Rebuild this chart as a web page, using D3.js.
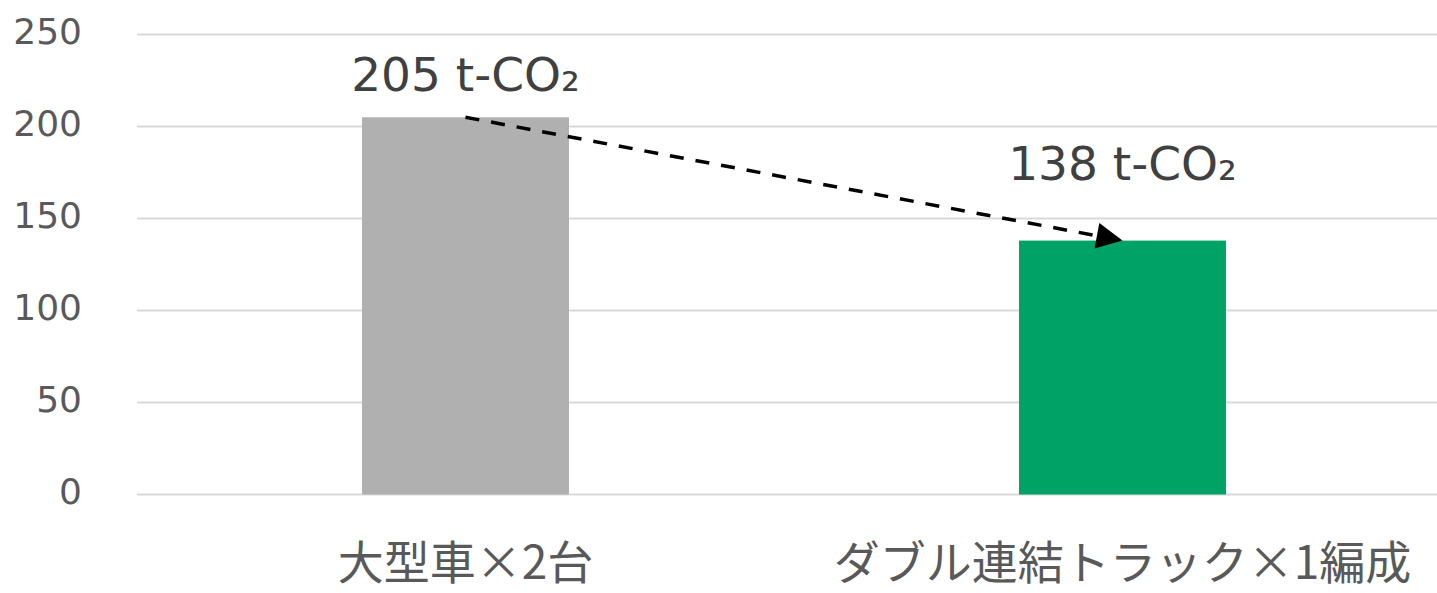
<!DOCTYPE html>
<html>
<head>
<meta charset="utf-8">
<script src="https://cdnjs.cloudflare.com/ajax/libs/d3/7.8.5/d3.min.js"></script>
<style>
  body { margin: 0; background: #fff; }
  svg { display: block; }
</style>
</head>
<body>
<script>
// data
var categories = ["大型車×2台", "ダブル連結トラック×1編成"];
var values = [205, 138];
var valueLabels = ["205 t-CO₂", "138 t-CO₂"];
var barColors = ["#b0b0b0", "#00a266"];
var yTicks = [0, 50, 100, 150, 200, 250];

var w = 1437, h = 593;
var margin = {top: 34.5, left: 137, bottom: 98.5},
    plotRight = 1451; // right edge of the plot sits just past the window

var svg = d3.select("body").append("svg")
    .attr("width", w)
    .attr("height", h);

var x = d3.scaleBand()
    .domain(categories)
    .range([margin.left, plotRight])
    .padding(0);

var y = d3.scaleLinear()
    .domain([0, 250])
    .range([h - margin.bottom, margin.top]);

var barW = x.bandwidth() * 0.315;

// gridlines
svg.append("g")
    .selectAll("line")
    .data(yTicks)
    .enter().append("line")
    .attr("x1", margin.left)
    .attr("x2", w)
    .attr("y1", function(d) { return y(d); })
    .attr("y2", function(d) { return y(d); })
    .attr("stroke", "#d9d9d9")
    .attr("stroke-width", 2);

// y tick labels
svg.append("g")
    .selectAll("text")
    .data(yTicks)
    .enter().append("text")
    .attr("x", margin.left - 55)
    .attr("y", function(d) { return y(d) + 9; })
    .attr("text-anchor", "end")
    .style("font-family", "'DejaVu Sans', sans-serif")
    .style("font-size", "36px")
    .attr("fill", "#595959")
    .text(function(d) { return d; });

// bars
svg.append("g")
    .selectAll("rect")
    .data(values)
    .enter().append("rect")
    .attr("x", function(d, i) { return x(categories[i]) + x.bandwidth() / 2 - barW / 2; })
    .attr("y", function(d) { return y(d); })
    .attr("width", barW)
    .attr("height", function(d) { return y(0) - y(d); })
    .attr("fill", function(d, i) { return barColors[i]; });

// category labels
svg.append("g")
    .selectAll("text")
    .data(categories)
    .enter().append("text")
    .attr("x", function(d) { return x(d) + x.bandwidth() / 2; })
    .attr("y", 579)
    .attr("text-anchor", "middle")
    .style("font-family", "'Noto Sans CJK JP', sans-serif")
    .style("font-size", "46px")
    .attr("fill", "#595959")
    .text(function(d) { return d; });

// value labels above the bars
var labelOffset = [26, 61];
svg.append("g")
    .selectAll("text")
    .data(valueLabels)
    .enter().append("text")
    .attr("x", function(d, i) { return x(categories[i]) + x.bandwidth() / 2; })
    .attr("y", function(d, i) { return y(values[i]) - labelOffset[i]; })
    .attr("text-anchor", "middle")
    .style("font-family", "'DejaVu Sans', sans-serif")
    .style("font-size", "47px")
    .attr("fill", "#404040")
    .text(function(d) { return d; });

// dashed arrow from first bar top to second bar top
svg.append("defs").append("marker")
    .attr("id", "arrow")
    .attr("viewBox", "0 0 10 10")
    .attr("refX", 10)
    .attr("refY", 5)
    .attr("markerUnits", "userSpaceOnUse")
    .attr("markerWidth", 30)
    .attr("markerHeight", 26)
    .attr("orient", "auto")
    .append("path")
    .attr("d", "M0,0L10,5L0,10Z")
    .attr("fill", "#000");

svg.append("line")
    .attr("x1", x(categories[0]) + x.bandwidth() / 2)
    .attr("y1", y(values[0]))
    .attr("x2", x(categories[1]) + x.bandwidth() / 2)
    .attr("y2", y(values[1]))
    .attr("stroke", "#000")
    .attr("stroke-width", 3.5)
    .attr("stroke-dasharray", "14,12")
    .attr("marker-end", "url(#arrow)");
</script>
</body>
</html>
